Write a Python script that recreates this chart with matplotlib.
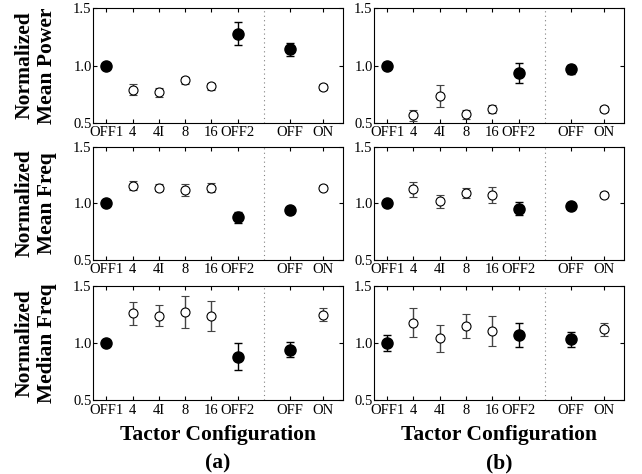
import numpy as np
import matplotlib.pyplot as plt

plt.rcParams['font.family'] = 'Liberation Serif'

# tactor configurations and where they sit on the x axis
configs = ['OFF1', '4', '4I', '8', '16', 'OFF2', 'OFF', 'ON']
xpos = [1, 2, 3, 4, 5, 6, 8, 9.25]
filled = [True, False, False, False, False, True, True, False]

# (a) normalized means and error bar half-widths
power_a = [1.00, 0.79, 0.767, 0.87, 0.82, 1.276, 1.14, 0.81]
power_a_err = [0.02, 0.05, 0.04, 0.03, 0.03, 0.10, 0.06, 0.025]
mfreq_a = [1.00, 1.156, 1.14, 1.12, 1.14, 0.877, 0.94, 1.14]
mfreq_a_err = [0.02, 0.04, 0.03, 0.05, 0.04, 0.05, 0.015, 0.02]
medfreq_a = [1.00, 1.26, 1.24, 1.27, 1.235, 0.882, 0.94, 1.25]
medfreq_a_err = [0.03, 0.10, 0.09, 0.14, 0.13, 0.12, 0.065, 0.06]

# (b)
power_b = [1.00, 0.566, 0.734, 0.574, 0.618, 0.935, 0.968, 0.624]
power_b_err = [0.03, 0.045, 0.095, 0.04, 0.035, 0.085, 0.04, 0.025]
mfreq_b = [1.00, 1.126, 1.02, 1.096, 1.072, 0.955, 0.976, 1.078]
mfreq_b_err = [0.02, 0.065, 0.058, 0.045, 0.07, 0.055, 0.015, 0.025]
medfreq_b = [1.00, 1.18, 1.04, 1.15, 1.103, 1.07, 1.032, 1.12]
medfreq_b_err = [0.07, 0.13, 0.12, 0.105, 0.13, 0.106, 0.063, 0.06]

ylabels = ['Normalized\nMean Power', 'Normalized\nMean Freq', 'Normalized\nMedian Freq']
data = [[(power_a, power_a_err), (power_b, power_b_err)],
        [(mfreq_a, mfreq_a_err), (mfreq_b, mfreq_b_err)],
        [(medfreq_a, medfreq_a_err), (medfreq_b, medfreq_b_err)]]

fig = plt.figure(figsize=(6.42, 4.74), dpi=100)
lefts = [0.145, 0.5826]
bottoms = [0.7405, 0.4515, 0.156]
heights = [0.2426, 0.2384, 0.2405]
width = 0.389

for r in range(3):
    for c in range(2):
        ax = fig.add_axes([lefts[c], bottoms[r], width, heights[r]])
        vals, errs = data[r][c]
        for x, v, e, f in zip(xpos, vals, errs, filled):
            if f:
                ax.errorbar(x, v, yerr=e, fmt='o', color='black', ms=8,
                            mfc='black', mec='black', capsize=3, elinewidth=1.0,
                            capthick=1.0, zorder=3)
            else:
                ax.errorbar(x, v, yerr=e, fmt='o', color='#444444', ms=6.5,
                            mfc='white', mec='black', mew=0.8, capsize=3,
                            elinewidth=1.0, capthick=1.0, zorder=3)
        ax.axvline(7, color='gray', linestyle=(0, (1, 3)), linewidth=0.8)
        ax.set_xlim(0.5, 10)
        ax.set_ylim(0.5, 1.5)
        ax.set_yticks([0.5, 1.0, 1.5])
        ax.set_yticklabels(['0.5', '1.0', '1.5'])
        ax.set_xticks(xpos)
        ax.set_xticklabels(configs)
        ax.tick_params(direction='in', top=True, right=True, length=3,
                       labelsize=10.5, pad=1)
        ax.tick_params(axis='x', pad=2.5)
        for s in ax.spines.values():
            s.set_linewidth(0.8)
        if c == 0:
            fig.text(0.0557, bottoms[r] + heights[r] / 2, ylabels[r],
                     rotation=90, ha='center', va='center', fontsize=15.5,
                     fontweight='bold', linespacing=1.15)
        if r == 2:
            ax.set_xlabel('Tactor Configuration\n(a)' if c == 0 else 'Tactor Configuration\n(b)',
                          fontsize=15.5, fontweight='bold', linespacing=1.55, labelpad=6)

fig.savefig('out.png', dpi=100)
